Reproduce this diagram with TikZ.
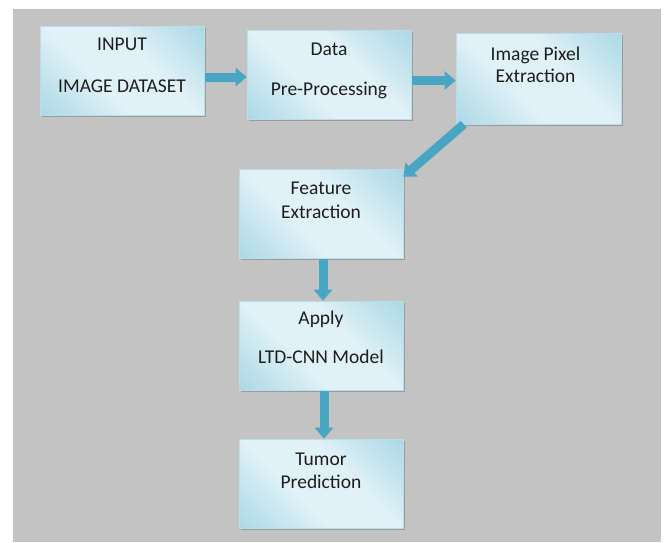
\documentclass[tikz,border=0pt]{standalone}
\usepackage{fontspec}
\setmainfont{Carlito}
\usetikzlibrary{arrows.meta,calc,shadows}
\definecolor{bgray}{RGB}{195,195,195}
\definecolor{bdark}{RGB}{140,202,220}
\definecolor{blight}{RGB}{224,241,247}
\definecolor{bedge}{RGB}{185,222,233}
\definecolor{arrcol}{RGB}{72,166,195}
\definecolor{txtcol}{RGB}{30,30,30}
\pgfdeclarehorizontalshading{boxsh}{100bp}{color(0bp)=(bdark); color(40bp)=(blight); color(60bp)=(blight); color(100bp)=(bdark)}
\tikzset{
  box/.style={rectangle, minimum width=164pt, minimum height=89pt, inner sep=0pt,
    shading=boxsh, shading angle=45, draw=bedge, line width=0.6pt,
    drop shadow={shadow xshift=1.5pt, shadow yshift=-1.5pt, fill=black!45, opacity=0.7}},
  txt/.style={inner sep=0pt, anchor=base, text=txtcol, font=\fontsize{19.5}{23}\selectfont},
  blk/.style={draw=arrcol, line width=9pt, -{Triangle[width=18pt,length=11pt]}}
}
\begin{document}
\begin{tikzpicture}[x=1pt,y=-1pt]
\useasboundingbox (0,0) rectangle (665,542);
\fill[white] (0,0) rectangle (665,542);
\fill[bgray] (13,9) rectangle (661,542);
\node[box] (b1) at (122,70.5) {};
\node[box] (b2) at (329,74.5) {};
\node[box, minimum width=165pt, minimum height=91pt] (b3) at (538.5,78.5) {};
\node[box] (b4) at (321,213.5) {};
\node[box] (b5) at (321,345.5) {};
\node[box] (b6) at (321,483.5) {};
\node[txt] (t1a) at ($(b1.north)+(0,25)$) {INPUT};
\node[txt] (t1b) at ($(b1.north)+(0,67)$) {IMAGE DATASET};
\node[txt] (t2a) at ($(b2.north)+(0,26)$) {Data};
\node[txt] (t2b) at ($(b2.north)+(0,66)$) {Pre-Processing};
\node[txt] (t3a) at ($(b3.north)+(-3,28)$) {Image Pixel};
\node[txt] (t3b) at ($(b3.north)+(-3,50)$) {Extraction};
\node[txt] (t4a) at ($(b4.north)+(0,26)$) {Feature};
\node[txt] (t4b) at ($(b4.north)+(0,50)$) {Extraction};
\node[txt] (t5a) at ($(b5.north)+(0,24)$) {Apply};
\node[txt] (t5b) at ($(b5.north)+(0,63)$) {LTD-CNN Model};
\node[txt] (t6a) at ($(b6.north)+(0,27)$) {Tumor};
\node[txt] (t6b) at ($(b6.north)+(0,50)$) {Prediction};
\draw[blk] ($(b1.east)+(1,6.5)$) -- ($(b2.west)+(0,2.5)$);
\draw[blk] ($(b2.east)+(1,6)$) -- ($(b3.west)+(0,2)$);
\draw[blk] ($(b3.south west)+(8,0)$) -- ($(b4.north east)+(0,8)$);
\draw[blk] ($(b4.south)+(2,1)$) -- ($(b5.north)+(2,0)$);
\draw[blk] ($(b5.south)+(3,1)$) -- ($(b6.north)+(3,0)$);
\end{tikzpicture}
\end{document}
